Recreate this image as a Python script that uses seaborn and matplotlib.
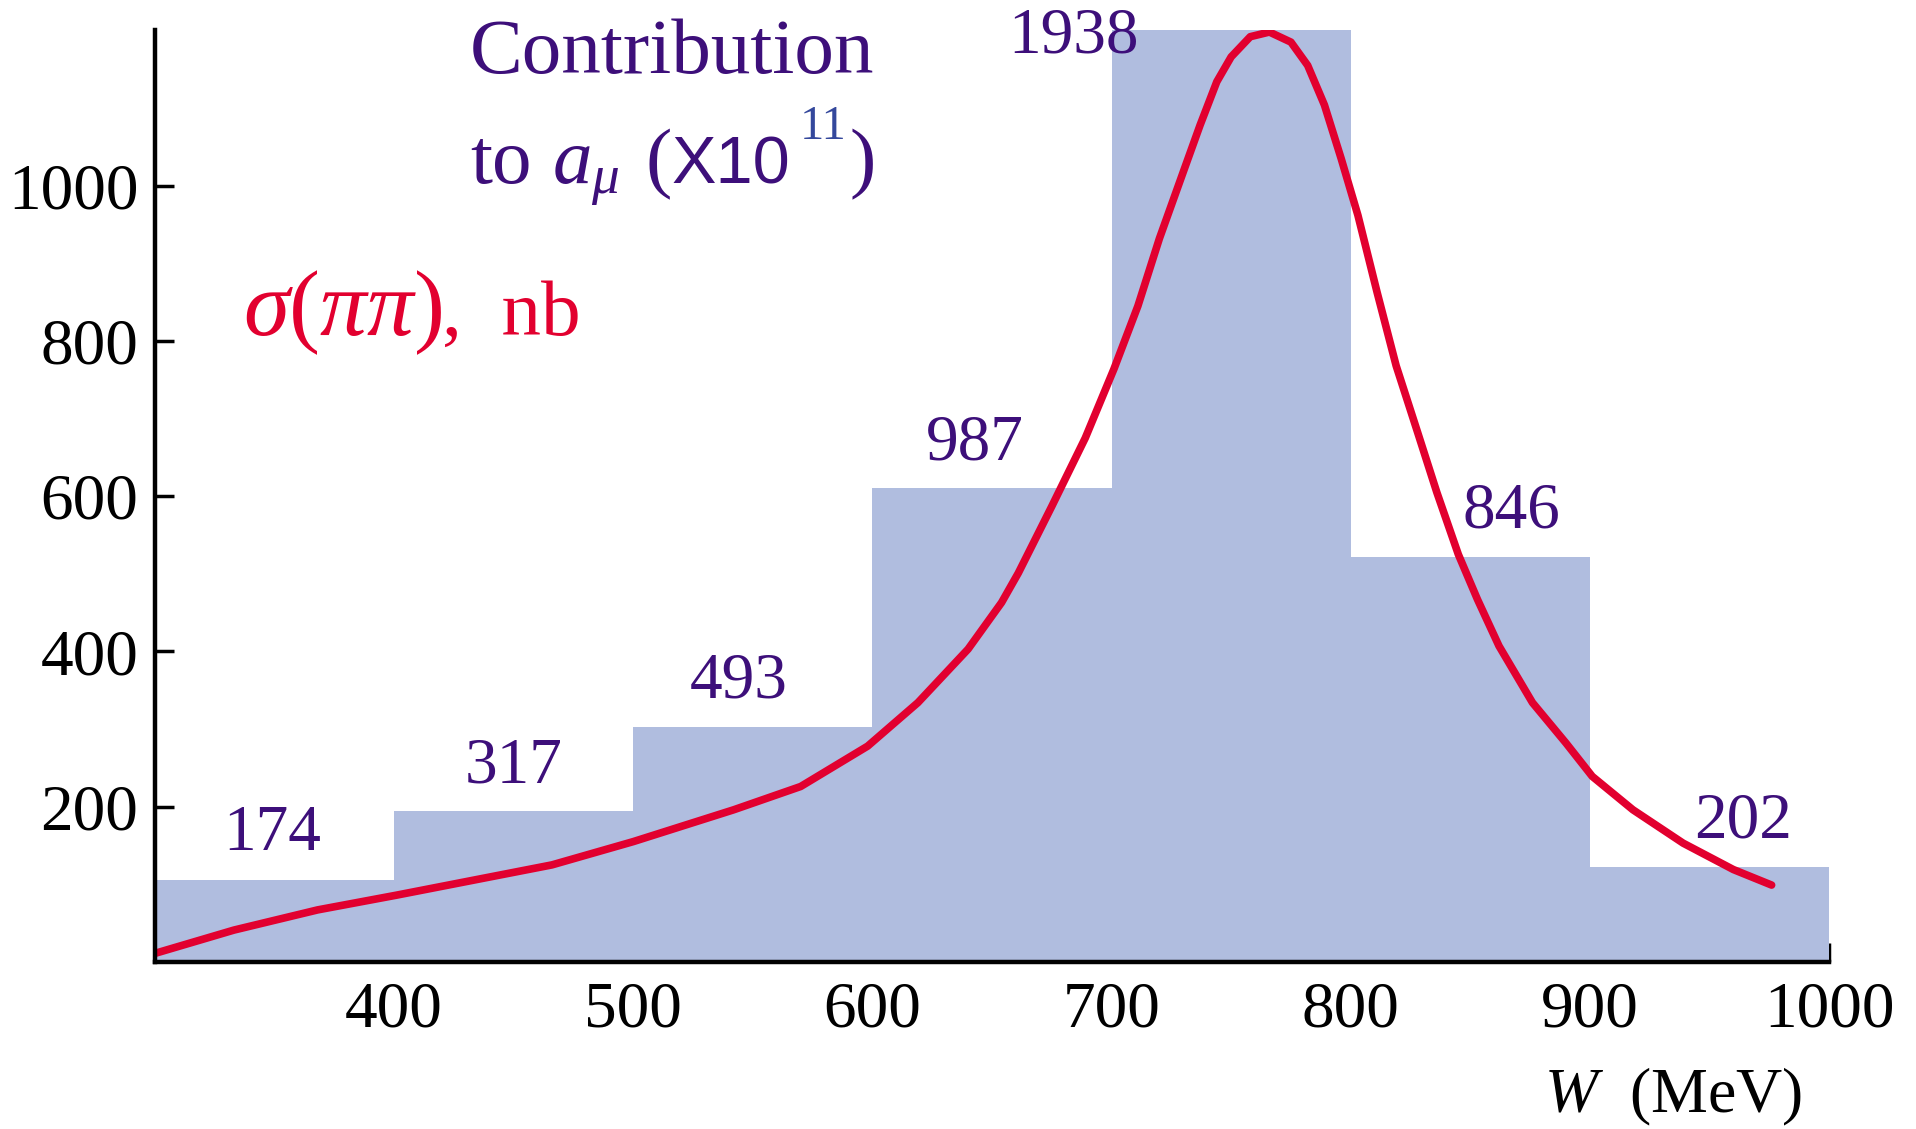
import matplotlib
matplotlib.use("Agg")
import matplotlib.pyplot as plt
import seaborn as sns
from matplotlib.transforms import IdentityTransform

# histogram bins (MeV) and bar heights
bin_edges = [300, 400, 500, 600, 700, 800, 900, 1000]
bar_heights = [106, 194, 303, 610, 1200, 522, 122]
# contribution to a_mu (x10^11) written above each bar
contrib_labels = ["174", "317", "493", "987", "1938", "846", "202"]

# sigma(pi pi) curve, nb
sigma_w = [300, 333, 368, 401, 431, 466, 500, 542, 570, 598, 619, 640, 654,
           661, 675, 689, 701, 711, 720, 730, 737, 744, 750, 758, 766, 775,
           782, 789, 796, 803, 811, 819, 828, 836, 845, 853, 862, 876, 890,
           901, 918, 939, 960, 976]
sigma_nb = [11, 41, 67, 86, 104, 125, 155, 196, 226, 278, 334, 403, 463,
            501, 587, 675, 764, 845, 932, 1018, 1078, 1134, 1166, 1192, 1198,
            1185, 1155, 1104, 1035, 962, 863, 768, 682, 605, 525, 467, 407,
            334, 282, 239, 196, 153, 119, 99]

bar_color = "#b0bddf"
red = "#e2002f"
purple = "#3d0f7a"
blue = "#34489c"

sns.set_style("ticks")
plt.rcParams["font.family"] = ["Liberation Serif", "DejaVu Serif"]
plt.rcParams["mathtext.fontset"] = "custom"
plt.rcParams["mathtext.rm"] = "Liberation Serif"
plt.rcParams["mathtext.it"] = "Liberation Serif:italic"

fig = plt.figure(figsize=(19.16, 11.29), dpi=100)
ax = fig.add_axes([0.0809, 0.148, 0.9546 - 0.0809, 0.973 - 0.148])

centers = [(a + b) / 2 for a, b in zip(bin_edges[:-1], bin_edges[1:])]
sns.histplot(x=centers, weights=bar_heights, bins=bin_edges, color=bar_color,
             alpha=1, linewidth=0, ax=ax)
sns.lineplot(x=sigma_w, y=sigma_nb, color=red, linewidth=5.5, ax=ax,
             solid_capstyle="round", solid_joinstyle="round")

ax.set_xlim(300, 1000)
ax.set_ylim(0, 1200)
ax.set_xticks([400, 500, 600, 700, 800, 900, 1000])
ax.set_yticks([200, 400, 600, 800, 1000])
ax.set_xlabel("")
ax.set_ylabel("")
ax.tick_params(direction="in", length=14, width=2.5, labelsize=47,
               colors="black")
ax.tick_params(axis="x", pad=14)
ax.tick_params(axis="y", pad=12)
for s in ["top", "right"]:
    ax.spines[s].set_visible(False)
for s in ["left", "bottom"]:
    ax.spines[s].set_linewidth(3.2)
    ax.spines[s].set_color("black")

# numbers above the bars
x_shift = [-1, 0, -6, -7, -66, 17, 14]
for i, txt in enumerate(contrib_labels):
    y = bar_heights[i] + 58
    if i == 4:
        y = bar_heights[i] - 8
    ax.text(centers[i] + x_shift[i], y, txt, ha="center", va="center",
            fontsize=47, color=purple, clip_on=False)

# title block, placed in pixels
renderer = fig.canvas.get_renderer()


def chain(pieces, x0, y0):
    xp = x0
    for s, kw, dy, gap in pieces:
        t = fig.text(xp, y0 + dy, s, transform=IdentityTransform(),
                     va="baseline", ha="left", **kw)
        xp += t.get_window_extent(renderer).width + gap


fig.text(470, 1056, "Contribution", transform=IdentityTransform(),
         fontsize=57, color=purple, va="baseline", ha="left")

chain([
    ("to", dict(fontsize=57, color=purple), 0, 20),
    (r"$a_\mu$", dict(fontsize=57, color=purple), 0, 26),
    ("(", dict(fontsize=57, color=purple), 0, 0),
    ("X10", dict(fontsize=48, color=purple, family="Liberation Sans"), 0, 10),
    ("11", dict(fontsize=35, color=blue), 44, 3),
    (")", dict(fontsize=57, color=purple), 0, 0),
], 470, 946)

chain([
    (r"$\sigma(\pi\pi)$", dict(fontsize=67, color=red), 0, 0),
    (",  nb", dict(fontsize=57, color=red), 0, 0),
], 243, 794)

fig.text(1673, 17, r"$W$  (MeV)", transform=IdentityTransform(),
         fontsize=46, color="black", va="baseline", ha="center")

fig.savefig("out.png", dpi=100)
